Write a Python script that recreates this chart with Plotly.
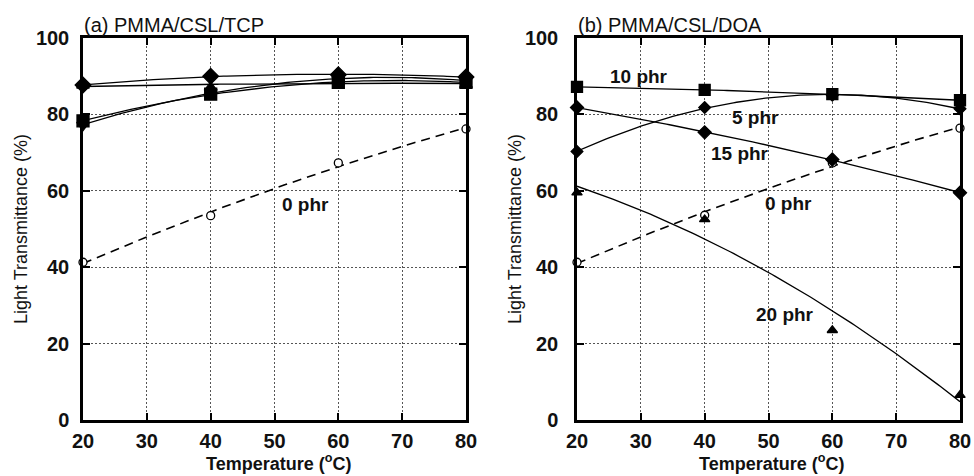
import numpy as np
import plotly.graph_objects as go

# ---------------- data ----------------
temps = [20, 40, 60, 80]
x_ticks = [20, 30, 40, 50, 60, 70, 80]
y_ticks = [0, 20, 40, 60, 80, 100]

# (a) PMMA/CSL/TCP
tcp_0 = [41.3, 53.5, 67.3, 76.2]
tcp_5 = [87.7, 90.0, 90.4, 89.8]
tcp_10 = [87.6, 87.0, 89.0, 87.8]
tcp_15 = [78.3, 85.3, 88.4, 88.4]
tcp_20 = [77.2, 85.9, 89.0, 89.0]

# (b) PMMA/CSL/DOA
doa_0 = [41.3, 53.6, 67.3, 76.4]
doa_5 = [70.3, 81.8, 85.0, 81.5]
doa_10 = [87.2, 86.4, 85.3, 83.7]
doa_15 = [81.8, 75.3, 68.2, 59.5]
doa_20 = [59.5, 52.5, 23.5, 6.5]

panel_titles = ["(a) PMMA/CSL/TCP", "(b) PMMA/CSL/DOA"]
x_title = "Temperature (<sup>o</sup>C)"
y_title = "Light Transmittance (%)"

# ---------------- figure ----------------
W, H = 974, 476
FONT = "Arial, 'Liberation Sans', Helvetica, sans-serif"

def px_x(p):
    return p / W

def px_y(p):
    return 1 - p / H

fig = go.Figure()

xfit = np.linspace(20, 80, 121)

def add_series(xa, ya, ys, symbol, size, dashed=False, open_marker=False):
    coef = np.polyfit(temps, ys, 2)
    yfit = np.polyval(coef, xfit)
    fig.add_trace(go.Scatter(
        x=xfit, y=yfit, mode="lines", xaxis=xa, yaxis=ya,
        line=dict(color="black", width=1.6 if dashed else 1.3,
                  dash="9px,6px" if dashed else "solid"),
        hoverinfo="skip", showlegend=False, cliponaxis=False))
    fig.add_trace(go.Scatter(
        x=temps, y=ys, mode="markers", xaxis=xa, yaxis=ya,
        marker=dict(symbol=symbol, size=size,
                    color="white" if open_marker else "black",
                    line=dict(color="black", width=1.3)),
        showlegend=False, cliponaxis=False))

# panel (a)
add_series("x", "y", tcp_0, "circle", 8, dashed=True, open_marker=True)
add_series("x", "y", tcp_10, "triangle-up", 11)
add_series("x", "y", tcp_20, "triangle-down", 11)
add_series("x", "y", tcp_15, "square", 12)
add_series("x", "y", tcp_5, "diamond", 12)

# panel (b)
add_series("x2", "y2", doa_0, "circle", 8, dashed=True, open_marker=True)
add_series("x2", "y2", doa_20, "triangle-up", 9)
add_series("x2", "y2", doa_15, "diamond", 10)
add_series("x2", "y2", doa_5, "diamond", 9)
add_series("x2", "y2", doa_10, "square", 11)

axis_common = dict(
    showline=True, linecolor="black", linewidth=2.5, mirror="ticks",
    ticks="inside", ticklen=7, tickwidth=2, tickcolor="black",
    showgrid=True, gridcolor="#555", gridwidth=1, griddash="2px,2px",
    zeroline=False, automargin=False,
    tickfont=dict(family=FONT, size=20, color="#111", weight="bold"),
)

xdom1 = [px_x(83), px_x(466)]
xdom2 = [px_x(577), px_x(960)]
ydom = [px_y(420), px_y(38)]

fig.update_layout(
    template="none",
    width=W, height=H,
    margin=dict(l=0, r=0, t=0, b=0, autoexpand=False),
    paper_bgcolor="white", plot_bgcolor="white",
    showlegend=False,
    xaxis=dict(domain=xdom1, range=[20, 80], tickvals=x_ticks, anchor="y",
               ticklabelstandoff=1, **axis_common),
    yaxis=dict(domain=ydom, range=[0, 100], tickvals=y_ticks, anchor="x",
               ticklabelstandoff=7, **axis_common),
    xaxis2=dict(domain=xdom2, range=[20, 80], tickvals=x_ticks, anchor="y2",
                ticklabelstandoff=1, **axis_common),
    yaxis2=dict(domain=ydom, range=[0, 100], tickvals=y_ticks, anchor="x2",
                ticklabelstandoff=12, **axis_common),
)

ann = []
# panel titles
ann.append(dict(text=panel_titles[0], xref="paper", yref="paper",
                x=px_x(82), y=px_y(25), xanchor="left", yanchor="middle",
                showarrow=False, font=dict(family=FONT, size=20, color="#111")))
ann.append(dict(text=panel_titles[1], xref="paper", yref="paper",
                x=px_x(576), y=px_y(25), xanchor="left", yanchor="middle",
                showarrow=False, font=dict(family=FONT, size=20, color="#111")))
# axis titles
for cx in (px_x(278), px_x(771)):
    ann.append(dict(text=x_title, xref="paper", yref="paper", x=cx, y=0,
                    xanchor="center", yanchor="bottom", showarrow=False,
                    font=dict(family=FONT, size=18, color="#111", weight="bold")))
for cx in (px_x(21), px_x(515)):
    ann.append(dict(text=y_title, xref="paper", yref="paper", x=cx, y=px_y(229),
                    xanchor="center", yanchor="middle", textangle=-90, showarrow=False,
                    font=dict(family=FONT, size=18, color="#111")))

# series labels
lab_font = dict(family=FONT, size=19, color="#111", weight="bold")
labels = [
    ("x", "y", 54.8, 56.4, "0 phr"),
    ("x2", "y2", 29.7, 89.8, "10 phr"),
    ("x2", "y2", 47.9, 79.2, "5 phr"),
    ("x2", "y2", 45.5, 69.8, "15 phr"),
    ("x2", "y2", 53.1, 56.7, "0 phr"),
    ("x2", "y2", 52.6, 27.6, "20 phr"),
]
for xr, yr, lx, ly, t in labels:
    ann.append(dict(text=t, xref=xr, yref=yr, x=lx, y=ly, showarrow=False,
                    xanchor="center", yanchor="middle", font=lab_font))

fig.update_layout(annotations=ann)

fig.write_html(
    "out.html",
    config={"displayModeBar": False},
    post_script="document.body.style.margin='0px';document.body.style.overflow='hidden';",
)
